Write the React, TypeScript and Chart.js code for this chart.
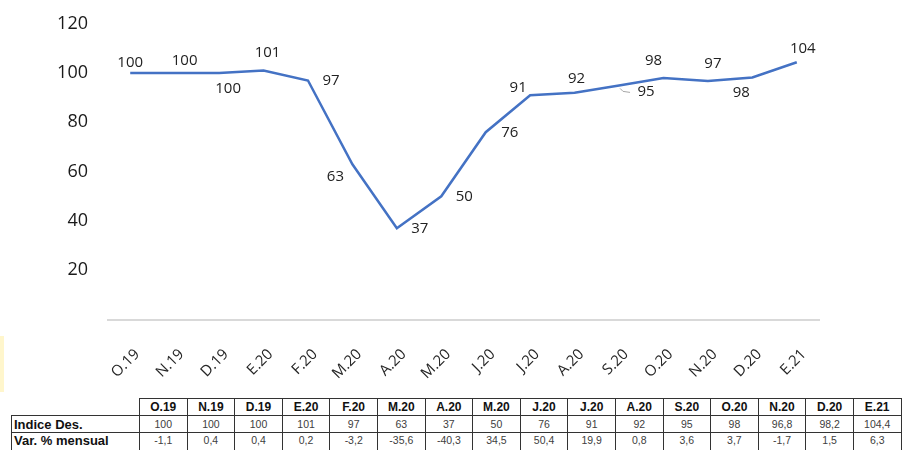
import React, { useEffect, useRef } from "react";
import { Chart, registerables } from "chart.js";

Chart.register(...registerables);

const CATEGORIES = ["O.19", "N.19", "D.19", "E.20", "F.20", "M.20", "A.20", "M.20", "J.20", "J.20", "A.20", "S.20", "O.20", "N.20", "D.20", "E.21"];
const INDICE = [100, 100, 100, 101, 97, 63, 37, 50, 76, 91, 92, 95, 98, 96.8, 98.2, 104.4];
const VAR_MENSUAL = [-1.1, 0.4, 0.4, 0.2, -3.2, -35.6, -40.3, 34.5, 50.4, 19.9, 0.8, 3.6, 3.7, -1.7, 1.5, 6.3];
const Y_TICKS = [0, 20, 40, 60, 80, 100, 120];
const ROW_LABELS = ["Indice Des.", "Var. % mensual"];

// label placement (style): offsets from the point
const LABEL_OFFSETS: [number, number][] = [
  [0, -10], [10, -12], [9, 16], [4, -18], [23, 0], [-17, 12], [23, 0], [23, 0],
  [24, 1], [-12, -8], [2, -14], [27, 6], [-10, -17], [5, -17], [-11, 15], [6, -14],
];
const LEADER_INDEX = 11;

const fmt = (v: number) => String(v).replace(".", ",");

const labelPlugin = {
  id: "pointLabels",
  afterDatasetsDraw(chart: any) {
    const ctx = chart.ctx;
    const meta = chart.getDatasetMeta(0);
    ctx.save();
    ctx.font = '15px "Open Sans"';
    ctx.fillStyle = "#222";
    ctx.textAlign = "center";
    ctx.textBaseline = "middle";
    meta.data.forEach((pt: any, i: number) => {
      const [dx, dy] = LABEL_OFFSETS[i];
      if (i === LEADER_INDEX) {
        ctx.strokeStyle = "#a6a6a6";
        ctx.lineWidth = 1;
        ctx.beginPath();
        ctx.moveTo(pt.x + 1, pt.y + 3);
        ctx.lineTo(pt.x + 4, pt.y + 6);
        ctx.lineTo(pt.x + 11, pt.y + 7);
        ctx.stroke();
      }
      ctx.fillText(String(Math.round(INDICE[i])), pt.x + dx, pt.y + dy);
    });
    ctx.restore();
  },
};

function LineChart() {
  const ref = useRef<HTMLCanvasElement | null>(null);
  useEffect(() => {
    if (!ref.current) return;
    const chart = new Chart(ref.current, {
      type: "line",
      data: {
        labels: CATEGORIES,
        datasets: [
          {
            data: INDICE,
            borderColor: "#4472C4",
            borderWidth: 2.5,
            pointRadius: 0,
            tension: 0,
            fill: false,
          },
        ],
      },
      options: {
        responsive: false,
        animation: false,
        layout: { padding: { top: 16, right: 84, left: 0, bottom: 0 } },
        plugins: { legend: { display: false }, tooltip: { enabled: false } },
        scales: {
          x: {
            offset: true,
            grid: { display: false, drawTicks: false },
            border: { display: true, color: "#d9d9d9", width: 2 },
            ticks: {
              minRotation: 45,
              maxRotation: 45,
              autoSkip: false,
              padding: 26,
              labelOffset: 7,
              color: "#262626",
              font: { family: "Open Sans", size: 15 },
            },
            afterFit(scale: any) {
              scale.height = 75.5;
            },
          },
          y: {
            min: 0,
            max: 120,
            afterBuildTicks(scale: any) {
              scale.ticks = Y_TICKS.map((v) => ({ value: v }));
            },
            grid: { display: false, drawTicks: false },
            border: { display: false },
            ticks: {
              padding: 20,
              color: "#1a1a1a",
              font: { family: "Open Sans", size: 18 },
              callback: (v: any) => (v === 0 ? "" : String(v)),
            },
            afterFit(scale: any) {
              scale.width = 108;
            },
          },
        },
      },
      plugins: [labelPlugin],
    });
    return () => chart.destroy();
  }, []);
  return <canvas ref={ref} width={903} height={402} style={{ position: "absolute", left: 0, top: -7 }} />;
}

const cellBorder = "1px solid #333";

function DataTable() {
  const colW = 47.6;
  const rows = [INDICE.map(fmt), VAR_MENSUAL.map(fmt)];
  return (
    <table
      style={{
        position: "absolute",
        left: 11,
        top: 398,
        borderCollapse: "collapse",
        tableLayout: "fixed",
        width: 128 + colW * CATEGORIES.length,
        fontFamily: '"Liberation Sans", Arial, sans-serif',
      }}
    >
      <colgroup>
        <col style={{ width: 128 }} />
        {CATEGORIES.map((_, i) => (
          <col key={i} style={{ width: colW }} />
        ))}
      </colgroup>
      <tbody>
        <tr style={{ height: 17 }}>
          <td style={{ padding: 0 }} />
          {CATEGORIES.map((c, i) => (
            <td key={i} style={{ border: cellBorder, padding: 0, textAlign: "center", fontWeight: "bold", fontSize: 12, color: "#111", lineHeight: "15px" }}>
              {c}
            </td>
          ))}
        </tr>
        {rows.map((r, ri) => (
          <tr key={ri} style={{ height: ri === 0 ? 17 : 19 }}>
            <td style={{ border: cellBorder, padding: "0 0 0 2px", fontWeight: "bold", fontSize: 13, color: "#111", whiteSpace: "nowrap", lineHeight: "15px", verticalAlign: ri === 1 ? "top" : "middle" }}>
              {ROW_LABELS[ri]}
            </td>
            {r.map((v, i) => (
              <td key={i} style={{ border: cellBorder, padding: 0, textAlign: "center", fontSize: 10.5, color: "#404040", lineHeight: "15px", verticalAlign: ri === 1 ? "top" : "middle" }}>
                {v}
              </td>
            ))}
          </tr>
        ))}
      </tbody>
    </table>
  );
}

export default function App() {
  return (
    <div style={{ position: "fixed", left: 0, top: 0, width: 903, height: 450, background: "#fff", overflow: "hidden" }}>
      <div style={{ position: "absolute", left: 0, top: 336, width: 4, height: 56, background: "#fff6cc" }} />
      <LineChart />
      <DataTable />
    </div>
  );
}
